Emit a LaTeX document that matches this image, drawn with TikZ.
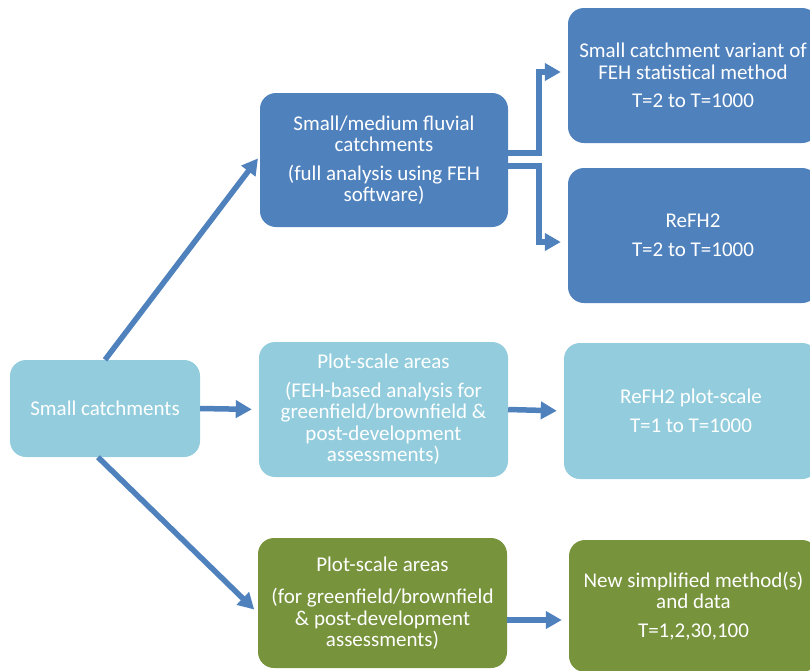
\documentclass[tikz,border=0pt]{standalone}
\usepackage{fontspec}
\setmainfont{Carlito}
\usepackage{xcolor}
\usepackage{tikz}
\usetikzlibrary{arrows.meta,positioning}
\definecolor{fehblue}{HTML}{4F81BD}
\definecolor{fehlight}{HTML}{93CDDD}
\definecolor{fehgreen}{HTML}{77933C}

\begin{document}
\begin{tikzpicture}[x=1pt,y=-1pt,
    every node/.style={font=\fontsize{21}{21.5}\selectfont},
    flowbox/.style={rectangle,rounded corners=16pt,text=white,align=center,inner sep=0pt},
    darkbox/.style={flowbox,fill=fehblue},
    lightbox/.style={flowbox,fill=fehlight},
    greenbox/.style={flowbox,fill=fehgreen},
    flowarrow/.style={draw=fehblue,line width=5.5pt,-{Triangle[length=16pt,width=17pt]},shorten >=7pt}]
  \useasboundingbox (0,0) rectangle (810,670);
  \clip (0,0) rectangle (810,670);
  % start box
  \node[lightbox,minimum width=190pt,minimum height=97pt] (small) at (105,408.5) {Small catchments};
  % fluvial branch
  \node[darkbox,minimum width=248pt,minimum height=134pt] (fluvial) at (384,160)
    {Small/medium fluvial\\catchments\\[7pt](full analysis using FEH\\software)};
  \node[darkbox,minimum width=250pt,minimum height=135pt] (variant) at (693,75.5)
    {Small catchment variant of\\FEH statistical method\\[7pt]T=2 to T=1000};
  \node[darkbox,minimum width=250pt,minimum height=135pt] (refh) at (693,235.5)
    {ReFH2\\[7pt]T=2 to T=1000};
  % plot-scale, FEH based
  \node[lightbox,minimum width=249pt,minimum height=135pt] (plotfeh) at (383.5,409.5)
    {Plot-scale areas\\[7pt](FEH-based analysis for\\greenfield/brownfield \&\\post-development\\assessments)};
  \node[lightbox,minimum width=254pt,minimum height=136pt] (refhplot) at (691,411)
    {ReFH2 plot-scale\\[7pt]T=1 to T=1000};
  % plot-scale, new method
  \node[greenbox,minimum width=249pt,minimum height=130pt] (plotnew) at (382.5,603)
    {Plot-scale areas\\[11pt](for greenfield/brownfield\\\& post-development\\assessments)};
  \node[greenbox,minimum width=249pt,minimum height=132pt] (newmethod) at (693.5,606)
    {New simplified method(s)\\and data\\[7pt]T=1,2,30,100};
  % arrows
  \draw[flowarrow,shorten >=3pt] (small.north) -- ([yshift=4pt]fluvial.west);
  \draw[flowarrow] (small.east) -- (plotfeh.west);
  \draw[flowarrow,shorten >=5pt] ([xshift=-7pt]small.south) -- ([yshift=-10pt]plotnew.west);
  \draw[flowarrow] ([yshift=7pt]fluvial.east) -- ++(31,0) |- ([yshift=3.5pt]variant.west);
  \draw[flowarrow] ([yshift=-6pt]fluvial.east) -- ++(31,0) |- ([yshift=-6.5pt]refh.west);
  \draw[flowarrow] (plotfeh.east) -- (refhplot.west);
  \draw[flowarrow] ([yshift=-17pt]plotnew.east) -- ([yshift=-17pt]plotnew.east -| newmethod.west);
\end{tikzpicture}
\end{document}
